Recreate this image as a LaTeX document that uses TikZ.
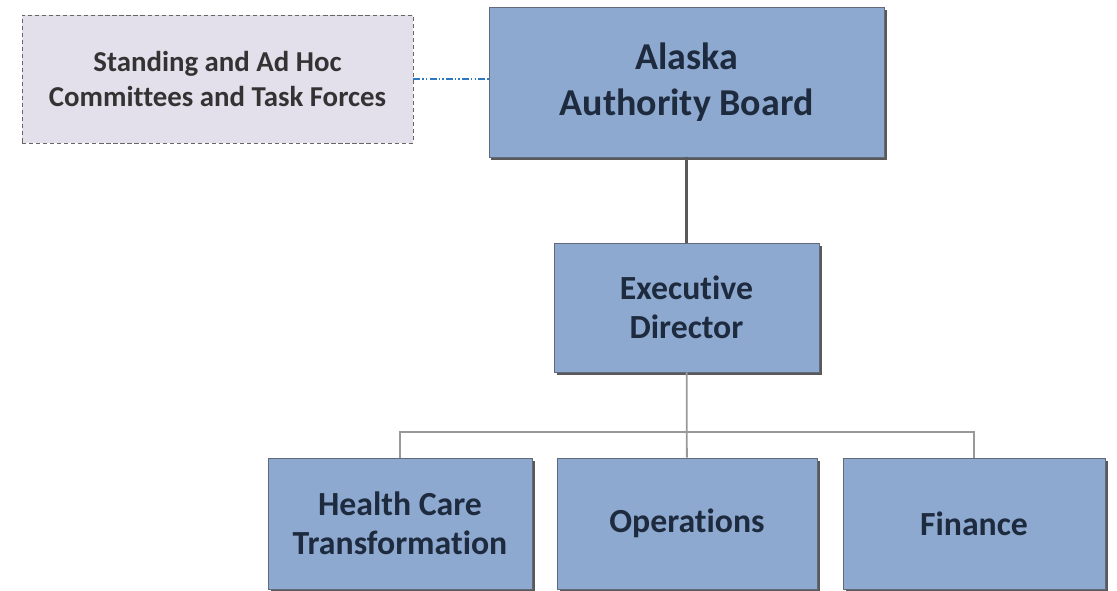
\documentclass[tikz,border=0pt]{standalone}
\usepackage{fontspec}
\setmainfont{Carlito}[Ligatures=NoCommon]
\usetikzlibrary{shadows}
\definecolor{boxblue}{RGB}{142,169,207}
\definecolor{boxline}{RGB}{96,106,122}
\definecolor{boxtext}{RGB}{30,42,62}
\definecolor{lilac}{RGB}{228,224,235}
\definecolor{linkblue}{RGB}{45,120,195}
\begin{document}
\begin{tikzpicture}[x=0.025cm,y=-0.025cm]
\useasboundingbox (0,0) rectangle (1117,591);
\begin{scope}[every node/.style={rectangle,draw=boxline,fill=boxblue,text=boxtext,
      align=center,inner sep=0pt,
      drop shadow={shadow xshift=1.8pt,shadow yshift=-1.8pt,fill=black!65,opacity=1}}]
    \node[minimum width=9.875cm,minimum height=3.75cm,
          font=\bfseries\fontsize{27}{32.7}\selectfont] (board) at (686.5,82) {Alaska\\Authority Board};
    \node[minimum width=6.625cm,minimum height=3.225cm,
          font=\bfseries\fontsize{24}{27.7}\selectfont] (ed) at (686.5,307.5) {Executive\\Director};
    \node[minimum width=6.6cm,minimum height=3.275cm,
          font=\bfseries\fontsize{24}{27.7}\selectfont] (hct) at (400,523.5) {Health Care\\Transformation};
    \node[minimum width=6.5cm,minimum height=3.275cm,
          font=\bfseries\fontsize{24}{27.7}\selectfont] (ops) at (687,523.5) {Operations};
    \node[minimum width=6.55cm,minimum height=3.275cm,
          font=\bfseries\fontsize{24}{27.7}\selectfont] (fin) at (974,523.5) {Finance};
\end{scope}
\node[rectangle,draw=black!60,densely dashed,fill=lilac,text=black!80,align=center,inner sep=0pt,
      minimum width=9.775cm,minimum height=3.2cm,
      font=\bfseries\fontsize{20.5}{24.2}\selectfont] (comm) at (217.5,79) {Standing and Ad Hoc\\Committees and Task Forces};
\coordinate (split) at (687,432);
\begin{scope}[every edge/.style={draw=black!65,line width=2.2pt}]
    \path (board) edge (ed);
\end{scope}
\draw[black!40,line width=1.3pt] (ed) -- (ops);
\draw[black!40,line width=1.3pt] (hct) |- (split) -| (fin);
\draw[linkblue,line width=1.8pt,dash pattern=on 5pt off 1.5pt on 1pt off 1.5pt on 1pt off 1.5pt]
    (comm.east) -- (comm.east -| board.west);
\end{tikzpicture}
\end{document}
